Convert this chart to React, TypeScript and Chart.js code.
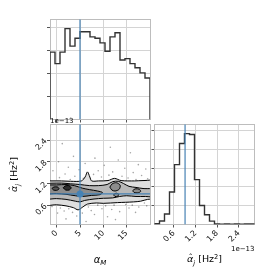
import React, { useEffect, useRef } from 'react';
import { Chart, registerables } from 'chart.js';

Chart.register(...registerables);

// ---------------- data ----------------
const ALPHA_M_RANGE = [-1.43, 20.0];
const ALPHA_J_RANGE = [0.065, 2.83]; // in units of 1e-13 Hz^2
const ALPHA_M_COUNTS = [146, 121, 146, 197, 159, 176, 190, 190, 179, 176, 166, 148, 179, 188, 129, 132, 121, 112, 101, 90];
const ALPHA_J_COUNTS = [4, 19, 56, 173, 319, 431, 484, 479, 239, 101, 52, 18, 3, 2, 3, 2, 3, 2, 3, 3];
const TRUTH_ALPHA_M = 5.0;
const TRUTH_ALPHA_J = 0.91;
const ALPHA_M_TICKS = [0, 5, 10, 15];
const ALPHA_M_TICK_LABELS = ['0', '5', '10', '15'];
const ALPHA_J_TICKS = [0.6, 1.2, 1.8, 2.4];
const ALPHA_J_TICK_LABELS = ['0.6', '1.2', '1.8', '2.4'];
const COUNT_M_TICKS = [50, 100, 150, 200];
const COUNT_J_TICKS = [100, 200, 300, 400, 500];
const OFFSET_TEXT = '1e\u221213';

// density contours (alpha_M, alpha_j)
const CONTOUR_1 = [
  [-3, 1.27], [1, 1.27], [3, 1.26], [5.3, 1.27], [6.1, 1.38], [6.6, 1.52], [7.1, 1.38], [7.5, 1.27], [9, 1.27],
  [11, 1.28], [12.4, 1.34], [13.8, 1.28], [16.7, 1.27], [18.5, 1.28], [22, 1.26],
  [22, 0.8], [19.5, 0.76], [18, 0.71], [16.5, 0.69], [13, 0.67], [10, 0.65], [8.5, 0.66], [6.6, 0.63],
  [5.6, 0.55], [4.6, 0.47], [3.6, 0.53], [2, 0.58], [0, 0.61], [-3, 0.62], [-3, 1.27],
];
const CONTOUR_2 = [
  [-3, 1.2], [1, 1.21], [3, 1.19], [5, 1.17], [7, 1.14], [9, 1.14], [10.8, 1.17], [12, 1.25], [13.2, 1.26],
  [14.3, 1.2], [15.5, 1.12], [17, 1.09], [18.5, 1.06], [22, 1.03],
  [22, 0.83], [19, 0.84], [17, 0.84], [15, 0.86], [13.5, 0.84], [12, 0.8], [10, 0.79], [8, 0.77], [6, 0.73],
  [5, 0.69], [4, 0.71], [2, 0.76], [0, 0.78], [-3, 0.79], [-3, 1.2],
];
const CONTOUR_3 = [
  [-3, 1.16], [0, 1.16], [2, 1.17], [3.8, 1.14], [5.5, 1.07], [7, 1.03], [8.8, 0.99], [9.8, 0.95],
  [9.3, 0.89], [7.5, 0.87], [5.5, 0.84], [4, 0.86], [2, 0.9], [0, 0.92], [-3, 0.93], [-3, 1.16],
];
const CONTOUR_3_ISLAND_A = [[11.4, 1.1], [11.9, 1.19], [12.8, 1.22], [13.6, 1.15], [13.4, 1.04], [12.5, 0.99], [11.8, 1.02], [11.4, 1.1]];
const CONTOUR_3_ISLAND_B = [[16.3, 1.0], [16.8, 1.05], [17.7, 1.04], [18.0, 0.98], [17.4, 0.94], [16.6, 0.95], [16.3, 1.0]];
const CONTOUR_3_ISLAND_C = [[12.2, 0.89], [12.7, 0.93], [13.3, 0.9], [13.1, 0.85], [12.5, 0.84], [12.2, 0.89]];
const CONTOUR_4_A = [[1.4, 1.08], [1.8, 1.13], [2.6, 1.14], [3.1, 1.08], [2.7, 1.02], [1.9, 1.02], [1.4, 1.08]];
const CONTOUR_4_B = [[-1.0, 1.06], [-0.6, 1.1], [0.2, 1.1], [0.5, 1.05], [0.0, 1.01], [-0.7, 1.02], [-1.0, 1.06]];

const SAMPLES = [
  [1.2, 2.3], [11.5, 2.2], [15.8, 2.05], [3.6, 1.95], [8.2, 1.9], [13.2, 1.85], [0.4, 1.8], [6.1, 1.75],
  [17.5, 1.72], [10.2, 1.7], [2.5, 1.65], [14.6, 1.62], [19.1, 1.6], [4.8, 1.58], [8.9, 1.55], [12.0, 1.52],
  [-0.8, 1.55], [16.4, 1.5], [1.8, 1.46], [7.9, 1.45], [11.2, 1.43], [18.2, 1.42], [3.9, 1.4], [14.0, 1.4],
  [9.6, 1.38], [0.6, 1.36], [5.7, 1.34], [15.3, 1.35], [19.5, 1.33], [2.9, 1.31], [12.8, 1.3], [17.0, 1.31],
  [-1.0, 0.56], [0.8, 0.52], [2.6, 0.5], [6.8, 0.55], [8.8, 0.6], [10.5, 0.58], [12.3, 0.6], [14.8, 0.62],
  [16.2, 0.6], [18.8, 0.66], [1.6, 0.44], [3.4, 0.4], [7.4, 0.45], [9.7, 0.5], [11.8, 0.48], [15.5, 0.52],
  [17.6, 0.55], [19.3, 0.58], [0.2, 0.38], [5.5, 0.38], [13.5, 0.42], [4.3, 0.3], [8.1, 0.34], [10.9, 0.28],
  [16.9, 0.4], [2.0, 0.22], [12.6, 0.2], [6.3, 0.15],
];

// ---------------- style ----------------
const FONT = '"DejaVu Sans", sans-serif';
const GRID = '#d4d4d4';
const SPINE = '#bdbdbd';
const TICK_COLOR = '#555';
const TRUTH = '#4682b4';
const HIST = '#333';

Chart.defaults.font.family = FONT;

type Piece = { t: string; it?: boolean; sub?: boolean; sup?: boolean; hat?: boolean };
type RichLabel = { pieces: Piece[]; x: number; y: number; size: number; rot?: number; align?: 'left' | 'center' | 'right' };

function drawRich(ctx: CanvasRenderingContext2D, lab: RichLabel) {
  const { pieces, x, y, size, rot = 0, align = 'center' } = lab;
  ctx.save();
  ctx.translate(x, y);
  ctx.rotate(rot);
  ctx.fillStyle = '#000';
  ctx.textBaseline = 'alphabetic';
  ctx.textAlign = 'left';
  const fontOf = (p: Piece) => `${p.it ? 'italic ' : ''}${p.sub || p.sup ? size * 0.7 : size}px ${FONT}`;
  const widths = pieces.map((p) => {
    ctx.font = fontOf(p);
    return ctx.measureText(p.t).width;
  });
  const total = widths.reduce((s, w) => s + w, 0);
  let cx = align === 'center' ? -total / 2 : align === 'right' ? -total : 0;
  const base = size * 0.36;
  pieces.forEach((p, i) => {
    ctx.font = fontOf(p);
    const dy = p.sub ? size * 0.22 : p.sup ? -size * 0.4 : 0;
    ctx.fillText(p.t, cx, base + dy);
    if (p.hat) {
      ctx.save();
      ctx.font = `${size * 0.9}px ${FONT}`;
      ctx.textAlign = 'center';
      ctx.fillText('\u02C6', cx + widths[i] / 2 + size * 0.06, base - size * 0.1);
      ctx.restore();
    }
    cx += widths[i];
  });
  ctx.restore();
}

const richPlugin = {
  id: 'richLabels',
  afterDraw(chart: any, _args: any, opts: any) {
    (opts.labels || []).forEach((l: RichLabel) => drawRich(chart.ctx, l));
  },
};

const framePlugin = {
  id: 'frame',
  beforeDatasetsDraw(chart: any) {
    const { ctx, chartArea: a } = chart;
    ctx.save();
    ctx.strokeStyle = SPINE;
    ctx.lineWidth = 1;
    ctx.strokeRect(Math.floor(a.left) + 0.5, Math.floor(a.top) + 0.5, Math.round(a.right - a.left), Math.round(a.bottom - a.top));
    ctx.restore();
  },
};

const toXY = (arr: number[][]) => arr.map(([x, y]) => ({ x, y }));

function stepPoints(range: number[], counts: number[]) {
  const [lo, hi] = range;
  const w = (hi - lo) / counts.length;
  const pts: { x: number; y: number }[] = [{ x: lo, y: 0 }];
  counts.forEach((c, i) => {
    pts.push({ x: lo + i * w, y: c }, { x: lo + (i + 1) * w, y: c });
  });
  pts.push({ x: hi, y: 0 });
  return pts;
}

function axis(o: { min: number; max: number; ticks: number[]; labels?: string[] | null; size: number; horizontal: boolean }) {
  return {
    type: 'linear',
    min: o.min,
    max: o.max,
    afterBuildTicks: (s: any) => {
      s.ticks = o.ticks.map((v) => ({ value: v }));
    },
    afterFit: (s: any) => {
      if (o.horizontal) s.height = o.size;
      else s.width = o.size;
    },
    grid: { color: GRID, lineWidth: 1, drawTicks: true, tickLength: 3, tickColor: TICK_COLOR, tickWidth: 1 },
    border: { display: false },
    ticks: {
      display: !!o.labels,
      autoSkip: false,
      minRotation: 45,
      maxRotation: 45,
      padding: 1,
      color: '#111',
      font: { family: FONT, size: 8 },
      callback: (_v: any, i: number) => (o.labels ? o.labels[i] : ''),
    },
  };
}

function baseOptions(padding: any, scales: any, labels: RichLabel[]) {
  return {
    responsive: false,
    maintainAspectRatio: false,
    animation: false,
    devicePixelRatio: 1,
    events: [],
    layout: { padding },
    elements: { line: { capBezierPoints: false }, point: { radius: 0 } },
    plugins: { legend: { display: false }, tooltip: { enabled: false }, richLabels: { labels } },
    scales,
  };
}

const AJ_LABEL: Piece[] = [
  { t: '\u03B1', it: true, hat: true },
  { t: 'j', it: true, sub: true },
  { t: ' [Hz' },
  { t: '2', sup: true },
  { t: ']' },
];

export default function App() {
  const refA = useRef<HTMLCanvasElement>(null);
  const refB = useRef<HTMLCanvasElement>(null);
  const refC = useRef<HTMLCanvasElement>(null);

  useEffect(() => {
    const maxM = 1.1 * Math.max(...ALPHA_M_COUNTS);
    const maxJ = 1.1 * Math.max(...ALPHA_J_COUNTS);

    // top histogram of alpha_M
    const cfgA: any = {
      type: 'line',
      data: {
        datasets: [
          { data: [{ x: TRUTH_ALPHA_M, y: 0 }, { x: TRUTH_ALPHA_M, y: maxM * 2 }], borderColor: TRUTH, borderWidth: 1.2, pointRadius: 0, order: 0 },
          { data: stepPoints(ALPHA_M_RANGE, ALPHA_M_COUNTS), borderColor: HIST, borderWidth: 1.4, pointRadius: 0, order: 1 },
        ],
      },
      options: baseOptions(
        { left: 40, right: 125, top: 19.5, bottom: 145.5 },
        {
          x: axis({ min: ALPHA_M_RANGE[0], max: ALPHA_M_RANGE[1], ticks: ALPHA_M_TICKS, labels: null, size: 10, horizontal: true }),
          y: axis({ min: 0, max: maxM, ticks: COUNT_M_TICKS, labels: null, size: 10, horizontal: false }),
        },
        []
      ),
      plugins: [framePlugin, richPlugin],
    };

    const contour = (pts: number[][], color: string, order: number) => ({
      data: toXY(pts),
      borderColor: '#000',
      borderWidth: 1,
      backgroundColor: color,
      fill: 'shape',
      pointRadius: 0,
      tension: 0.3,
      order,
    });

    // 2D panel
    const cfgB: any = {
      type: 'line',
      data: {
        datasets: [
          { data: [{ x: TRUTH_ALPHA_M, y: TRUTH_ALPHA_J }], showLine: false, pointRadius: 3.5, pointBackgroundColor: TRUTH, pointBorderWidth: 0, order: 0 },
          { data: [{ x: -5, y: TRUTH_ALPHA_J }, { x: 25, y: TRUTH_ALPHA_J }], borderColor: TRUTH, borderWidth: 1.2, pointRadius: 0, order: 1 },
          { data: [{ x: TRUTH_ALPHA_M, y: -1 }, { x: TRUTH_ALPHA_M, y: 4 }], borderColor: TRUTH, borderWidth: 1.2, pointRadius: 0, order: 2 },
          contour(CONTOUR_4_A, '#2e2e2e', 3),
          contour(CONTOUR_4_B, '#555555', 3),
          contour(CONTOUR_3, '#8c8c8c', 4),
          contour(CONTOUR_3_ISLAND_A, '#8c8c8c', 4),
          contour(CONTOUR_3_ISLAND_B, '#8c8c8c', 4),
          contour(CONTOUR_3_ISLAND_C, '#8c8c8c', 4),
          contour(CONTOUR_2, '#b8b8b8', 5),
          contour(CONTOUR_1, '#dedede', 6),
          { data: toXY(SAMPLES), showLine: false, pointRadius: 0.8, pointBackgroundColor: 'rgba(0,0,0,0.35)', pointBorderWidth: 0, order: 7 },
        ],
      },
      options: baseOptions(
        { left: 20, right: 125, top: 124.5, bottom: 20.5 },
        {
          x: axis({ min: ALPHA_M_RANGE[0], max: ALPHA_M_RANGE[1], ticks: ALPHA_M_TICKS, labels: ALPHA_M_TICK_LABELS, size: 30, horizontal: true }),
          y: axis({ min: ALPHA_J_RANGE[0], max: ALPHA_J_RANGE[1], ticks: ALPHA_J_TICKS, labels: ALPHA_J_TICK_LABELS, size: 30, horizontal: false }),
        },
        [
          { pieces: [{ t: '\u03B1', it: true }, { t: 'M', it: true, sub: true }], x: 100, y: 259, size: 10 },
          { pieces: AJ_LABEL, x: 14, y: 174.5, size: 9.5, rot: -Math.PI / 2 },
          { pieces: [{ t: OFFSET_TEXT }], x: 50, y: 120, size: 7, align: 'left' },
        ]
      ),
      plugins: [framePlugin, richPlugin],
    };

    // right histogram of alpha_j
    const cfgC: any = {
      type: 'line',
      data: {
        datasets: [
          { data: [{ x: TRUTH_ALPHA_J, y: 0 }, { x: TRUTH_ALPHA_J, y: maxJ * 2 }], borderColor: TRUTH, borderWidth: 1.2, pointRadius: 0, order: 0 },
          { data: stepPoints(ALPHA_J_RANGE, ALPHA_J_COUNTS), borderColor: HIST, borderWidth: 1.4, pointRadius: 0, order: 1 },
        ],
      },
      options: baseOptions(
        { left: 144.5, right: 20.5, top: 124.5, bottom: 20.5 },
        {
          x: axis({ min: ALPHA_J_RANGE[0], max: ALPHA_J_RANGE[1], ticks: ALPHA_J_TICKS, labels: ALPHA_J_TICK_LABELS, size: 30, horizontal: true }),
          y: axis({ min: 0, max: maxJ, ticks: COUNT_J_TICKS, labels: null, size: 10, horizontal: false }),
        },
        [
          { pieces: AJ_LABEL, x: 204.5, y: 259, size: 9.5 },
          { pieces: [{ t: OFFSET_TEXT }], x: 254.5, y: 248, size: 7, align: 'right' },
        ]
      ),
      plugins: [framePlugin, richPlugin],
    };

    const charts = [new Chart(refA.current!, cfgA), new Chart(refB.current!, cfgB), new Chart(refC.current!, cfgC)];
    return () => charts.forEach((c) => c.destroy());
  }, []);

  const st: React.CSSProperties = { position: 'absolute', left: 0, top: 0, width: 275, height: 275 };
  return (
    <div style={{ position: 'fixed', left: 0, top: 0, width: 275, height: 275, background: '#fff' }}>
      <canvas ref={refA} width={275} height={275} style={st} />
      <canvas ref={refB} width={275} height={275} style={st} />
      <canvas ref={refC} width={275} height={275} style={st} />
    </div>
  );
}
